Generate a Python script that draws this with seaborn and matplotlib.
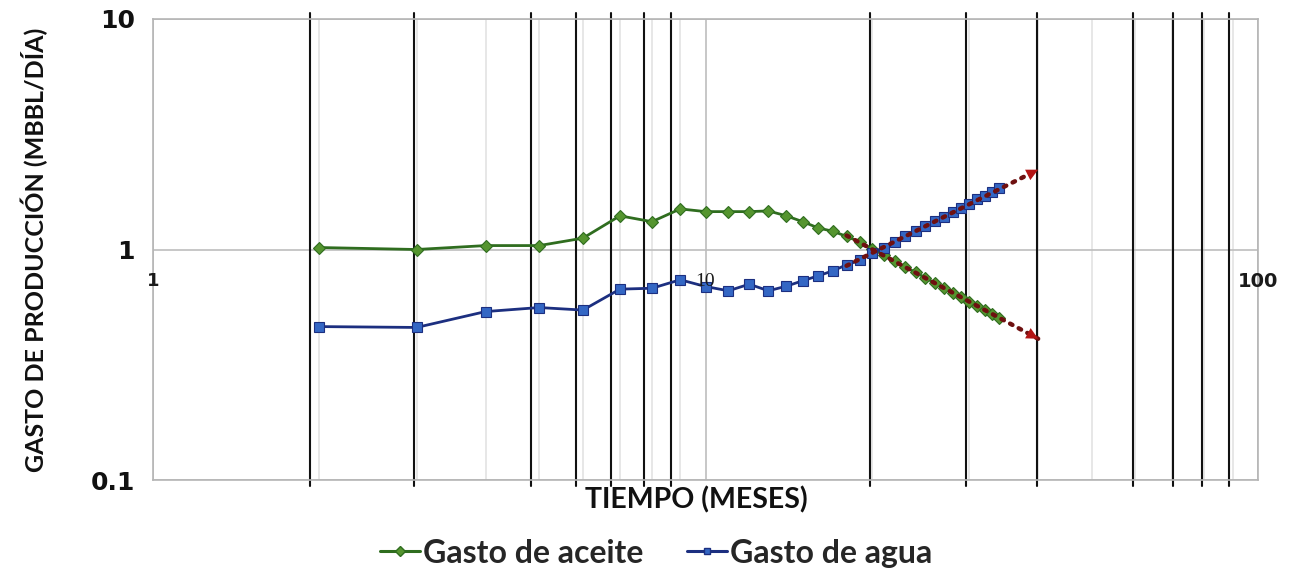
import matplotlib
matplotlib.use("Agg")
import matplotlib.pyplot as plt
import pandas as pd
import seaborn as sns

# Monthly production (MBBL/día)
months = list(range(2, 35))
oil_rate = [1.02, 1.00, 1.04, 1.04, 1.12, 1.40, 1.32, 1.50, 1.46, 1.46,
            1.46, 1.47, 1.40, 1.32, 1.24, 1.20, 1.14, 1.08, 1.01, 0.947,
            0.891, 0.841, 0.795, 0.754, 0.716, 0.682, 0.650, 0.621, 0.594,
            0.569, 0.545, 0.524, 0.504]
water_rate = [0.463, 0.459, 0.538, 0.560, 0.546, 0.673, 0.679, 0.739, 0.691,
              0.662, 0.707, 0.662, 0.693, 0.732, 0.769, 0.808, 0.858, 0.896,
              0.964, 1.02, 1.08, 1.14, 1.20, 1.26, 1.33, 1.39, 1.45, 1.52,
              1.58, 1.65, 1.71, 1.78, 1.85]

# Power-law trend projections (end points)
trend_months = [18, 40]
oil_trend = [1.15, 0.41]
water_trend = [0.85, 2.22]

# Reference month lines
ref_months = [1.92, 2.97, 4.83, 5.83, 6.75, 7.74, 8.66,
              19.85, 29.6, 39.8, 59.4, 70.2, 79.2, 88.6]

x_ticks = [1, 10, 100]
x_tick_labels = ["1", "10", "100"]
y_ticks = [0.1, 1, 10]
y_tick_labels = ["0.1", "1", "10"]

df = pd.DataFrame({"mes": months, "aceite": oil_rate, "agua": water_rate})

sns.set_theme(style="white")
plt.rcParams["font.family"] = ["Lato", "DejaVu Sans"]

fig = plt.figure(figsize=(12.98, 5.75), dpi=100)
ax = fig.add_axes([153 / 1298, 1 - 480 / 575, 1105 / 1298, 461 / 575])
ax.set_xscale("log")
ax.set_yscale("log")
ax.set_xlim(1, 100)
ax.set_ylim(0.1, 10)

# grid
ax.set_axisbelow(True)
ax.xaxis.grid(True, which="major", color="#bdbdbd", lw=1.2)
ax.xaxis.grid(True, which="minor", color="#e3e3e3", lw=1.2)
ax.yaxis.grid(True, which="major", color="#bdbdbd", lw=1.2)
ax.yaxis.grid(False, which="minor")
for s in ax.spines.values():
    s.set_color("#b5b5b5")
    s.set_linewidth(1.2)

for m in ref_months:
    ax.axvline(m, ymin=-0.012, ymax=1.012, color="#111111", lw=1.5,
               clip_on=False, zorder=1)

oil_line = "#2f6d1f"
oil_face = "#55952f"
water_line = "#1c2f80"
water_face = "#3467c4"

sns.lineplot(data=df, x="mes", y="aceite", ax=ax, color=oil_line, lw=2.0,
             marker="D", markersize=6.5, markerfacecolor=oil_face,
             markeredgecolor=oil_line, markeredgewidth=0.8, zorder=3)
sns.lineplot(data=df, x="mes", y="agua", ax=ax, color=water_line, lw=2.0,
             marker="s", markersize=6.5, markerfacecolor=water_face,
             markeredgecolor=water_line, markeredgewidth=0.8, zorder=3)

trend_color = "#6e1010"
head_color = "#b31515"
for tr in (oil_trend, water_trend):
    ax.plot(trend_months, tr, color=trend_color, lw=3.2,
            linestyle=(0, (0.6, 1.6)), dash_capstyle="round", zorder=4)
    f = 0.92
    xt = trend_months[0] * (trend_months[1] / trend_months[0]) ** f
    yt = tr[0] * (tr[1] / tr[0]) ** f
    ax.annotate("", xy=(trend_months[1], tr[1]), xytext=(xt, yt),
                arrowprops=dict(arrowstyle="-|>,head_length=0.7,head_width=0.35",
                                color=head_color, lw=0, shrinkA=0, shrinkB=0),
                zorder=5)

# tick labels
ax.set_xticks(x_ticks)
ax.set_xticklabels([])
ax.set_yticks(y_ticks)
ax.set_yticklabels(y_tick_labels, fontsize=18, fontweight="bold",
                   family=["DejaVu Sans"])
ax.tick_params(axis="both", which="both", length=0, pad=13)
ax.tick_params(axis="y", colors="#111111")

for v, lab in zip(x_ticks, x_tick_labels):
    fam = ["Liberation Serif"] if lab == "10" else ["DejaVu Sans"]
    wt = "normal" if lab == "10" else "bold"
    ax.annotate(lab, xy=(v, 1), xytext=(0, -23), textcoords="offset points",
                ha="center", va="center", fontsize=14 if lab != "1" else 13,
                fontweight=wt, family=fam, color="#1a1a1a",
                annotation_clip=False)

ax.set_xlabel("TIEMPO (MESES)", fontsize=20.5, fontweight="bold",
              color="#111111")
ax.xaxis.set_label_coords(0.492, -0.014)
ax.set_ylabel("GASTO DE PRODUCCIÓN (MBBL/DÍA)", fontsize=18,
              fontweight="bold", color="#111111")
ax.yaxis.set_label_coords(-0.095, 0.5)

handles = [
    plt.Line2D([], [], color=oil_line, lw=2.2, marker="D", markersize=5,
               markerfacecolor=oil_face, markeredgecolor=oil_line),
    plt.Line2D([], [], color=water_line, lw=2.2, marker="s", markersize=5,
               markerfacecolor=water_face, markeredgecolor=water_line),
]
fig.legend(handles, ["Gasto de aceite", "Gasto de agua"], loc="center",
           bbox_to_anchor=(656 / 1298, 0.038), ncol=2, frameon=False,
           prop={"weight": "bold", "size": 23},
           handlelength=1.25, handletextpad=0.1, columnspacing=1.35)

fig.savefig("out.png", dpi=100)
